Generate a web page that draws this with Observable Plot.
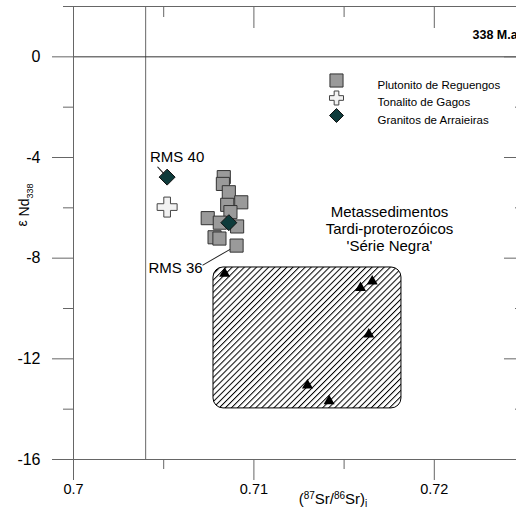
<!DOCTYPE html>
<html>
<head>
<meta charset="utf-8">
<script src="https://cdn.jsdelivr.net/npm/d3@7"></script>
<script src="https://cdn.jsdelivr.net/npm/@observablehq/plot@0.6"></script>
<style>
  html, body { margin: 0; padding: 0; background: #fff; overflow: hidden; }
  #wrap { width: 516px; height: 511px; overflow: hidden; }
</style>
</head>
<body>
<div id="wrap"></div>
<script>
// ---- tick values ----
const xMajorTicks = [0.70, 0.71, 0.72];
const xMinorTicks = [0.705, 0.715, 0.725];
const yMajorTicks = [0, -4, -8, -12, -16];
const yMinorTicks = [2, -2, -6, -10, -14];

// ---- series: (87Sr/86Sr)i and εNd(338) ----
const plutonitoSr = [0.70833, 0.70828, 0.70861, 0.70930, 0.70852, 0.70870, 0.70744, 0.70811, 0.70907, 0.70782, 0.70809, 0.70904];
const plutonitoNd = [-4.78, -5.05, -5.38, -5.78, -5.88, -6.17, -6.41, -6.59, -6.74, -7.17, -7.22, -7.50];
const tonalitoSr = [0.70519];
const tonalitoNd = [-5.97];
const granitoSr = [0.70519, 0.70861];
const granitoNd = [-4.78, -6.59];
const serieNegraSr = [0.70838, 0.71656, 0.71591, 0.71637, 0.71297, 0.71417];
const serieNegraNd = [-8.61, -8.92, -9.18, -11.03, -13.05, -13.68];

// Série Negra field extent
const fieldSr = [0.70776, 0.71818];
const fieldNd = [-13.97, -8.37];

// reference values
const bulkEarthSr = [0.704];
const churNd = [0];

// ---- texts ----
const legendLabels = ["Plutonito de Reguengos", "Tonalito de Gagos", "Granitos de Arraieiras"];
const fieldLabel = ["Metassedimentos", "Tardi-proterozóicos", "'Série Negra'"];
const ageLabel = "338 M.a.";
const rms40 = {label: "RMS 40", sr: granitoSr[0], nd: granitoNd[0]};
const rms36 = {label: "RMS 36", sr: plutonitoSr[11], nd: plutonitoNd[11]};

const zip = (xs, ys) => xs.map((x, i) => ({sr: x, nd: ys[i]}));
const plutonito = zip(plutonitoSr, plutonitoNd);
const tonalito = zip(tonalitoSr, tonalitoNd);
const granito = zip(granitoSr, granitoNd);
const serieNegra = zip(serieNegraSr, serieNegraNd);
const field = [{x1: fieldSr[0], x2: fieldSr[1], y1: fieldNd[0], y2: fieldNd[1]}];

const axisGray = "#666";
const leader = (inset) => ({draw(ctx, l) { ctx.moveTo(0, -inset); ctx.lineTo(0, -l); }});
const noText = () => "";

const chart = Plot.plot({
  width: 524,
  height: 511,
  marginLeft: 73,
  marginRight: 0,
  marginTop: 6,
  marginBottom: 52,
  x: {domain: [0.7, 0.725], axis: null},
  y: {domain: [-16, 2], axis: null},
  style: {fontFamily: "'Liberation Sans', Arial, sans-serif", background: "white", maxWidth: "none", color: "black"},
  marks: [
    // Série Negra field
    Plot.rect(field, {x1: "x1", x2: "x2", y1: "y1", y2: "y2", fill: "url(#hatch)", stroke: "#000", strokeWidth: 1, rx: 10}),
    // reference lines
    Plot.ruleX(bulkEarthSr, {stroke: axisGray, strokeWidth: 1}),
    Plot.ruleY(churNd, {stroke: "#333", strokeWidth: 1}),
    // frame
    Plot.frame({stroke: axisGray, strokeWidth: 1}),
    // axes: bottom
    Plot.axisX(xMajorTicks, {anchor: "bottom", tickSize: 21, tickPadding: 3, fontSize: 14.5, stroke: axisGray, fill: "black", tickFormat: d => String(d), label: null}),
    Plot.axisX(xMinorTicks, {anchor: "bottom", tickSize: 10, stroke: axisGray, tickFormat: noText, label: null}),
    // top (inward)
    Plot.axisX(xMajorTicks, {anchor: "top", tickSize: 21, dy: 21, stroke: axisGray, tickFormat: noText, label: null}),
    Plot.axisX(xMinorTicks, {anchor: "top", tickSize: 10, dy: 10, stroke: axisGray, tickFormat: noText, label: null}),
    // left
    Plot.axisY(yMajorTicks, {anchor: "left", tickSize: 21, tickPadding: 12, fontSize: 16, stroke: axisGray, fill: "black", tickFormat: d => String(d), label: null}),
    Plot.axisY(yMinorTicks, {anchor: "left", tickSize: 10, stroke: axisGray, tickFormat: noText, label: null}),
    // right (inward)
    Plot.axisY(yMajorTicks, {anchor: "right", tickSize: 21, dx: -21, stroke: axisGray, tickFormat: noText, label: null}),
    Plot.axisY(yMinorTicks, {anchor: "right", tickSize: 10, dx: -10, stroke: axisGray, tickFormat: noText, label: null}),

    // data
    Plot.dot(serieNegra, {x: "sr", y: "nd", symbol: "triangle", r: 4.1, fill: "black", stroke: "none"}),
    Plot.dot(plutonito, {x: "sr", y: "nd", symbol: "square", r: 7.4, fill: "#9a9a9a", stroke: "#333", strokeWidth: 1}),
    Plot.dot(tonalito, {x: "sr", y: "nd", symbol: "cross", r: 8.4, fill: "#f2f2f2", stroke: "#444", strokeWidth: 1}),
    Plot.dot(granito, {x: "sr", y: "nd", symbol: "diamond2", r: 7.2, fill: "#0e3b3b", stroke: "#111", strokeWidth: 1}),

    // sample labels with leader lines
    Plot.vector([rms40], {x: "sr", y: "nd", length: 13.7, rotate: -43, anchor: "start", shape: leader(4.8), stroke: "#222", fill: "none", strokeWidth: 1}),
    Plot.text([rms40], {x: "sr", y: "nd", text: "label", dx: 10, dy: -20, fontSize: 15, fill: "black"}),
    Plot.vector([rms36], {x: "sr", y: "nd", length: 39, rotate: -120, anchor: "start", shape: leader(8), stroke: "#222", fill: "none", strokeWidth: 1}),
    Plot.text([rms36], {x: "sr", y: "nd", text: "label", dx: -61, dy: 23, fontSize: 15, fill: "black"}),

    // field label
    Plot.text([fieldLabel.join("\n")], {frameAnchor: "top-left", dx: 316, dy: 222, text: d => d, fontSize: 15, lineHeight: 1.12, textAnchor: "middle", lineAnchor: "middle", fill: "black"}),

    // age label
    Plot.text([ageLabel], {frameAnchor: "top-left", dx: 399, dy: 24, text: d => d, fontSize: 12.5, fontWeight: "bold", textAnchor: "start", fill: "black"}),

    // in-plot legend
    Plot.dot([legendLabels[0]], {frameAnchor: "top-left", dx: 263, dy: 74, symbol: "square", r: 7.4, fill: "#9a9a9a", stroke: "#333", strokeWidth: 1}),
    Plot.dot([legendLabels[1]], {frameAnchor: "top-left", dx: 263, dy: 91.5, symbol: "cross", r: 5.9, fill: "#f2f2f2", stroke: "#444", strokeWidth: 1}),
    Plot.dot([legendLabels[2]], {frameAnchor: "top-left", dx: 263, dy: 109, symbol: "diamond2", r: 6.3, fill: "#0e3b3b", stroke: "#111", strokeWidth: 1}),
    Plot.text([legendLabels[0]], {frameAnchor: "top-left", dx: 304, dy: 74, text: d => d, fontSize: 11.5, textAnchor: "start", fill: "black"}),
    Plot.text([legendLabels[1]], {frameAnchor: "top-left", dx: 304, dy: 91.5, text: d => d, fontSize: 11.5, textAnchor: "start", fill: "black"}),
    Plot.text([legendLabels[2]], {frameAnchor: "top-left", dx: 304, dy: 109, text: d => d, fontSize: 11.5, textAnchor: "start", fill: "black"})
  ]
});

// hatch pattern for the field
const svg = d3.select(chart);
const defs = svg.insert("defs", ":first-child");
defs.append("pattern")
  .attr("id", "hatch")
  .attr("patternUnits", "userSpaceOnUse")
  .attr("width", 4.3)
  .attr("height", 4.3)
  .attr("patternTransform", "rotate(45)")
  .call(p => p.append("rect").attr("width", 4.3).attr("height", 4.3).attr("fill", "white"))
  .append("line")
  .attr("x1", 0.5).attr("y1", 0).attr("x2", 0.5).attr("y2", 4.3)
  .attr("stroke", "#000").attr("stroke-width", 1);

// axis titles (rich text)
const xTitle = svg.append("text")
  .attr("x", 333).attr("y", 504)
  .attr("text-anchor", "middle")
  .attr("font-size", 15)
  .attr("fill", "black");
xTitle.append("tspan").text("(");
xTitle.append("tspan").attr("font-size", 10).attr("dy", -5).text("87");
xTitle.append("tspan").attr("dy", 5).text("Sr/");
xTitle.append("tspan").attr("font-size", 10).attr("dy", -5).text("86");
xTitle.append("tspan").attr("dy", 5).text("Sr)");
xTitle.append("tspan").attr("font-size", 10).attr("dy", 3).text("i");

const yTitle = svg.append("text")
  .attr("transform", "translate(29,205) rotate(-90)")
  .attr("text-anchor", "middle")
  .attr("font-size", 14)
  .attr("fill", "black");
yTitle.append("tspan").attr("dy", -2).text("ε");
yTitle.append("tspan").attr("dy", 2).text(" Nd");
yTitle.append("tspan").attr("font-size", 9).attr("dy", 4).text("338");

document.getElementById("wrap").appendChild(chart);
</script>
</body>
</html>
